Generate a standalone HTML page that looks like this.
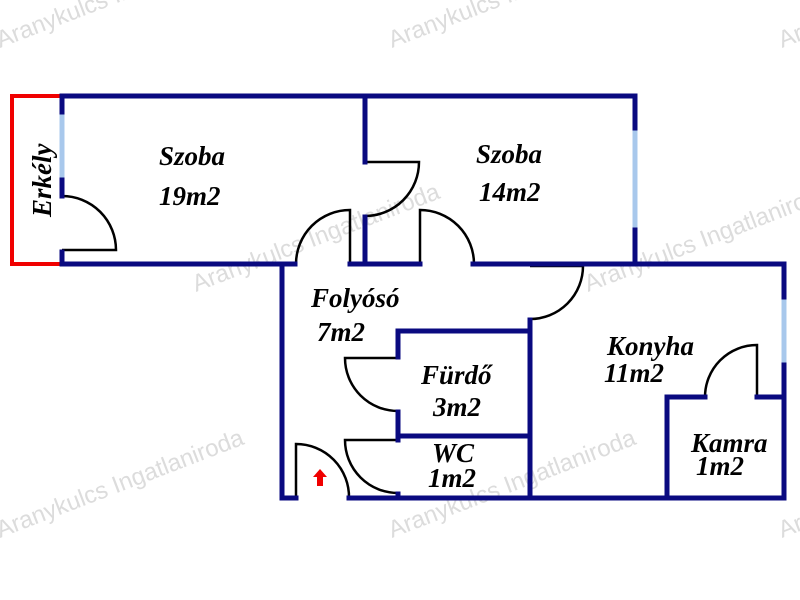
<!DOCTYPE html>
<html><head><meta charset="utf-8"><style>
html,body{margin:0;padding:0;background:#fff}
svg{display:block}
.t{font-family:"Liberation Serif",serif;font-weight:bold;font-style:italic;font-size:27px;fill:#000}
.w{font-family:"Liberation Sans",sans-serif;font-size:24px;fill:#dcdcdc}
</style></head><body>
<svg width="800" height="600" viewBox="0 0 800 600" xmlns="http://www.w3.org/2000/svg">
<g class="w">
<text transform="translate(0,48) rotate(-21)">Aranykulcs Ingatlaniroda</text>
<text transform="translate(392,48) rotate(-21)">Aranykulcs Ingatlaniroda</text>
<text transform="translate(782,48) rotate(-21)">Aranykulcs Ingatlaniroda</text>
<text transform="translate(196,292) rotate(-21)">Aranykulcs Ingatlaniroda</text>
<text transform="translate(588,292) rotate(-21)">Aranykulcs Ingatlaniroda</text>
<text transform="translate(0,538) rotate(-21)">Aranykulcs Ingatlaniroda</text>
<text transform="translate(392,538) rotate(-21)">Aranykulcs Ingatlaniroda</text>
<text transform="translate(782,538) rotate(-21)">Aranykulcs Ingatlaniroda</text>
</g>
<polyline points="62,96 12,96 12,264 62,264" fill="none" stroke="#f00000" stroke-width="4"/>
<g fill="none" stroke="#000" stroke-width="2.5">
<path d="M62,196 A54,54 0 0 1 116,250 L62,250"/>
<path d="M365,162 L419,162 A54,54 0 0 1 365,216"/>
<path d="M296,264 A54,54 0 0 1 350,210 L350,264"/>
<path d="M420,264 L420,210 A54,54 0 0 1 474,264"/>
<path d="M530,266 L583,266 A53,53 0 0 1 530,319"/>
<path d="M398,358 L345,358 A53,53 0 0 0 398,411"/>
<path d="M398,440 L345,440 A53,53 0 0 0 398,493"/>
<path d="M296,498 L296,444 A53,53 0 0 1 349,498"/>
<path d="M757,397 L757,345 A52,52 0 0 0 705,397"/>
</g>
<g stroke="#a8c8ec" stroke-width="5">
<line x1="62" y1="112" x2="62" y2="180"/>
<line x1="635" y1="128" x2="635" y2="230"/>
<line x1="784" y1="297" x2="784" y2="365"/>
</g>
<g fill="none" stroke="#0a0a80" stroke-width="5" stroke-linecap="square">
<line x1="62" y1="96" x2="635" y2="96"/>
<line x1="62" y1="96" x2="62" y2="112"/>
<line x1="62" y1="180" x2="62" y2="196"/>
<line x1="62" y1="252" x2="62" y2="264"/>
<line x1="62" y1="264" x2="295" y2="264"/>
<line x1="350" y1="264" x2="420" y2="264"/>
<line x1="473" y1="264" x2="784" y2="264"/>
<line x1="365" y1="96" x2="365" y2="162"/>
<line x1="365" y1="217" x2="365" y2="264"/>
<line x1="635" y1="96" x2="635" y2="128"/>
<line x1="635" y1="230" x2="635" y2="262"/>
<line x1="784" y1="264" x2="784" y2="297"/>
<line x1="784" y1="365" x2="784" y2="498"/>
<line x1="282" y1="264" x2="282" y2="498"/>
<line x1="282" y1="498" x2="296" y2="498"/>
<line x1="349" y1="498" x2="784" y2="498"/>
<line x1="530" y1="320" x2="530" y2="498"/>
<line x1="398" y1="331" x2="530" y2="331"/>
<line x1="398" y1="331" x2="398" y2="357"/>
<line x1="398" y1="412" x2="398" y2="440"/>
<line x1="398" y1="436" x2="530" y2="436"/>
<line x1="398" y1="494" x2="398" y2="498"/>
<line x1="667" y1="397" x2="705" y2="397"/>
<line x1="757" y1="397" x2="784" y2="397"/>
<line x1="667" y1="397" x2="667" y2="498"/>
</g>
<polygon points="320,469 327,477 323,477 323,486 317,486 317,477 313,477" fill="#f00000"/>
<text class="t" transform="translate(51,217) rotate(-90)">Erkély</text>
<text class="t" x="159" y="165">Szoba</text>
<text class="t" x="159" y="205">19m2</text>
<text class="t" x="476" y="163">Szoba</text>
<text class="t" x="479" y="201">14m2</text>
<text class="t" x="311" y="307">Folyósó</text>
<text class="t" x="317" y="341">7m2</text>
<text class="t" x="421" y="384">Fürdő</text>
<text class="t" x="433" y="416">3m2</text>
<text class="t" x="432" y="462">WC</text>
<text class="t" x="428" y="487">1m2</text>
<text class="t" x="607" y="355">Konyha</text>
<text class="t" x="604" y="382">11m2</text>
<text class="t" x="691" y="452">Kamra</text>
<text class="t" x="696" y="475">1m2</text>
</svg>
</body></html>
